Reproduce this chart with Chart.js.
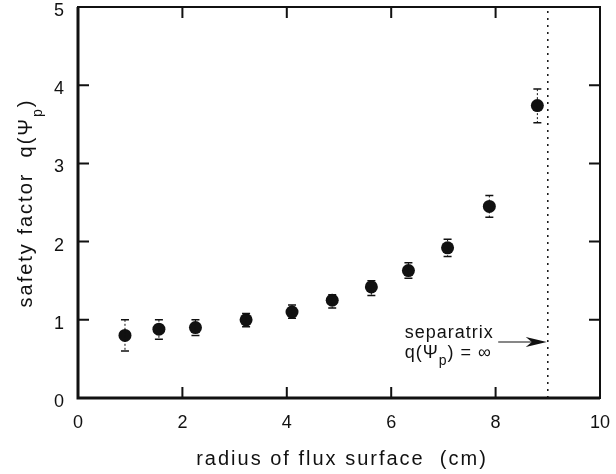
<!DOCTYPE html>
<html>
<head>
<meta charset="utf-8">
<script src="https://cdn.jsdelivr.net/npm/chart.js@4/dist/chart.umd.min.js"></script>
<style>
  body { margin: 0; background: #fff; }
  #wrap { width: 616px; height: 474px; }
</style>
</head>
<body>
<div id="wrap"><canvas id="qChart"></canvas></div>
<script>
// valores
const radius = [0.9, 1.55, 2.25, 3.22, 4.1, 4.87, 5.62, 6.33, 7.08, 7.88, 8.8];
const q      = [0.80, 0.88, 0.90, 1.00, 1.10, 1.25, 1.42, 1.63, 1.92, 2.45, 3.74];
const qHigh  = [1.00, 1.00, 1.00, 1.08, 1.19, 1.32, 1.50, 1.73, 2.03, 2.59, 3.95];
const qLow   = [0.60, 0.75, 0.80, 0.91, 1.02, 1.15, 1.31, 1.53, 1.81, 2.31, 3.52];
const xTicks = [0, 2, 4, 6, 8, 10];
const yTicks = [0, 1, 2, 3, 4, 5];
const separatrixR = 9;
const arrowStart = [8.05, 0.716];

const FONT = '"Liberation Sans", Arial, sans-serif';
const INK = '#111';

// barras de erro, moldura, ticks internos e textos
const decor = {
  id: 'decor',
  afterDatasetsDraw(chart) {
    const { ctx, chartArea: a, scales: { x, y } } = chart;
    ctx.save();

    // barras de erro
    radius.forEach((r, i) => {
      const px = x.getPixelForValue(r);
      const top = y.getPixelForValue(qHigh[i]);
      const bot = y.getPixelForValue(qLow[i]);
      ctx.strokeStyle = INK;
      ctx.lineWidth = 1;
      ctx.setLineDash([2, 2]);
      ctx.beginPath();
      ctx.moveTo(px, top); ctx.lineTo(px, bot);
      ctx.stroke();
      ctx.setLineDash([]);
      ctx.lineWidth = 1.5;
      ctx.beginPath();
      ctx.moveTo(px - 4, top); ctx.lineTo(px + 4, top);
      ctx.moveTo(px - 4, bot); ctx.lineTo(px + 4, bot);
      ctx.stroke();
    });

    // moldura
    ctx.strokeStyle = INK;
    ctx.lineWidth = 2;
    ctx.strokeRect(a.left, a.top, a.right - a.left, a.bottom - a.top);
    ctx.lineWidth = 3;
    ctx.beginPath();
    ctx.moveTo(a.left, a.top); ctx.lineTo(a.left, a.bottom); ctx.lineTo(a.right, a.bottom);
    ctx.stroke();

    // ticks para dentro nos quatro lados
    ctx.lineWidth = 2;
    ctx.beginPath();
    xTicks.slice(1, -1).forEach(v => {
      const px = x.getPixelForValue(v);
      ctx.moveTo(px, a.bottom); ctx.lineTo(px, a.bottom - 11);
      ctx.moveTo(px, a.top); ctx.lineTo(px, a.top + 11);
    });
    yTicks.slice(1, -1).forEach(v => {
      const py = y.getPixelForValue(v);
      ctx.moveTo(a.left, py); ctx.lineTo(a.left + 11, py);
      ctx.moveTo(a.right, py); ctx.lineTo(a.right - 11, py);
    });
    ctx.stroke();

    // ponta da seta
    const tipX = x.getPixelForValue(separatrixR) - 1;
    const tipY = y.getPixelForValue(arrowStart[1]);
    ctx.fillStyle = INK;
    ctx.beginPath();
    ctx.moveTo(tipX, tipY);
    ctx.lineTo(tipX - 21, tipY - 5);
    ctx.lineTo(tipX - 15, tipY);
    ctx.lineTo(tipX - 21, tipY + 5);
    ctx.closePath();
    ctx.fill();

    // anotação
    ctx.fillStyle = INK;
    ctx.textBaseline = 'alphabetic';
    ctx.textAlign = 'left';
    ctx.letterSpacing = '1px';
    const tx = x.getPixelForValue(6.26);
    ctx.font = '18px ' + FONT;
    ctx.fillText('separatrix', tx, y.getPixelForValue(0.767));
    let cx = tx;
    const line2 = y.getPixelForValue(0.51);
    ctx.fillText('q(\u03A8', cx, line2);
    cx += ctx.measureText('q(\u03A8').width;
    ctx.font = '14px ' + FONT;
    ctx.fillText('p', cx, line2 + 7);
    cx += ctx.measureText('p').width;
    ctx.font = '18px ' + FONT;
    ctx.fillText(') = \u221E', cx, line2);

    // título do eixo x
    ctx.letterSpacing = '2px';
    ctx.font = '20px ' + FONT;
    ctx.textAlign = 'center';
    ctx.fillText('radius of flux surface  (cm)', 342, 465);

    // título do eixo y com subscrito
    ctx.textAlign = 'left';
    ctx.translate(26, 203);
    ctx.rotate(-Math.PI / 2);
    const t1 = 'safety factor  q(\u03A8';
    ctx.font = '20px ' + FONT;
    const w1 = ctx.measureText(t1).width;
    const w3 = ctx.measureText(')').width;
    ctx.font = '14px ' + FONT;
    const wp = ctx.measureText('p').width;
    let sx = -(w1 + wp + w3) / 2;
    ctx.textBaseline = 'middle';
    ctx.font = '20px ' + FONT;
    ctx.fillText(t1, sx, 0);
    sx += w1;
    ctx.font = '14px ' + FONT;
    ctx.fillText('p', sx, 12);
    sx += wp;
    ctx.font = '20px ' + FONT;
    ctx.fillText(')', sx, 0);

    ctx.restore();
  }
};

new Chart(document.getElementById('qChart'), {
  type: 'scatter',
  data: {
    datasets: [
      {
        data: radius.map((r, i) => ({ x: r, y: q[i] })),
        pointRadius: 6.5,
        pointHoverRadius: 6.5,
        backgroundColor: INK,
        borderColor: INK,
        borderWidth: 0
      },
      {
        // separatriz
        type: 'line',
        data: [{ x: separatrixR, y: 0 }, { x: separatrixR, y: 5 }],
        borderColor: INK,
        borderWidth: 1.5,
        borderDash: [2, 5],
        pointRadius: 0,
        fill: false
      },
      {
        // haste da seta
        type: 'line',
        data: [{ x: arrowStart[0], y: arrowStart[1] }, { x: separatrixR - 0.3, y: arrowStart[1] }],
        borderColor: INK,
        borderWidth: 1.2,
        pointRadius: 0,
        fill: false
      }
    ]
  },
  options: {
    responsive: true,
    maintainAspectRatio: false,
    animation: false,
    layout: { padding: { top: 7, right: 16, left: 0, bottom: 0 } },
    plugins: { legend: { display: false }, tooltip: { enabled: false } },
    scales: {
      x: {
        type: 'linear',
        min: 0, max: 10,
        grid: { display: false },
        border: { display: false },
        afterFit(s) { s.height = 76; s.paddingLeft = 0; s.paddingRight = 0; },
        ticks: {
          stepSize: 2,
          padding: 6,
          color: INK,
          font: { family: FONT, size: 18 }
        }
      },
      y: {
        type: 'linear',
        min: 0, max: 5,
        grid: { display: false },
        border: { display: false },
        afterFit(s) { s.width = 78; s.paddingTop = 0; s.paddingBottom = 0; },
        ticks: {
          stepSize: 1,
          padding: 6,
          labelOffset: 4,
          color: INK,
          font: { family: FONT, size: 18 }
        }
      }
    }
  },
  plugins: [decor]
});
</script>
</body>
</html>
